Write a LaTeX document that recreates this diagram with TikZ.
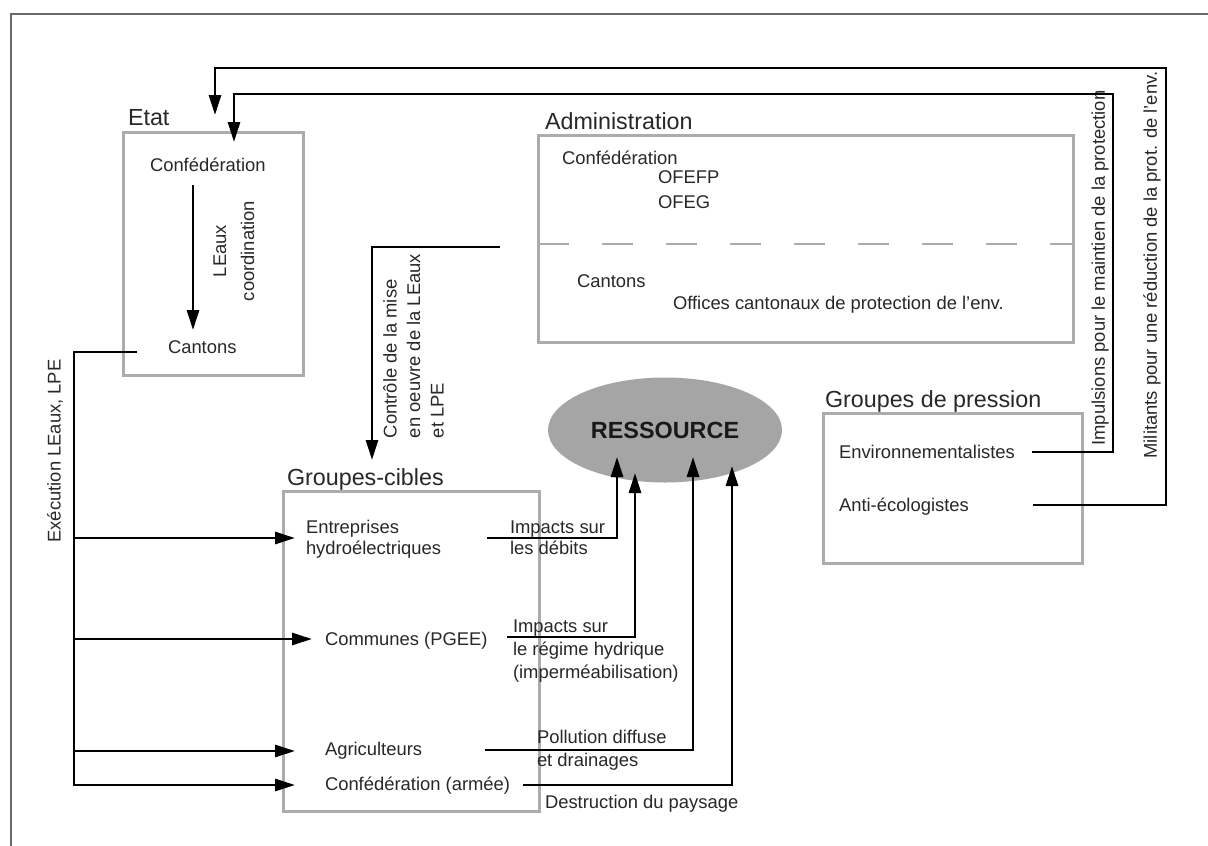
\documentclass[tikz,border=0pt]{standalone}
\usepackage{fontspec}
\setmainfont{Liberation Sans}
\usetikzlibrary{arrows.meta,shapes.geometric}
\definecolor{boxgray}{RGB}{172,172,172}
\definecolor{ellgray}{RGB}{165,165,165}
\definecolor{txtcol}{RGB}{40,40,40}
\definecolor{framecol}{RGB}{105,105,105}
\begin{document}
\begin{tikzpicture}[x=1pt,y=-1pt,
  txt/.style={font=\fontsize{18.4}{21}\selectfont, text=txtcol, inner sep=0pt, outer sep=0pt},
  hdr/.style={font=\fontsize{23.3}{28}\selectfont, text=txtcol, inner sep=0pt, outer sep=0pt},
  grpbox/.style={draw=boxgray, line width=3pt, inner sep=0pt, outer sep=0pt, anchor=north west},
  conn/.style={draw=black, line width=2.8pt},
  arr/.style={conn, -{Triangle[length=20pt,width=12pt]}},
]
\useasboundingbox (0,0) rectangle (1208,846);
\fill[white] (0,0) rectangle (1208,846);
% frame (left and top)
\draw[framecol, line width=2pt] (11,846) -- (11,14) -- (1208,14);

% group boxes
\node[grpbox, minimum width=180pt, minimum height=243pt] (etat) at (123,132) {};
\node[grpbox, minimum width=535pt, minimum height=207pt] (adm) at (538,135) {};
\node[grpbox, minimum width=256pt, minimum height=320pt] (gc) at (283,491) {};
\node[grpbox, minimum width=259pt, minimum height=150pt] (gp) at (823,413) {};
\draw[boxgray, line width=2.2pt, dash pattern=on 31pt off 33pt] (adm.west |- 0,244) -- (adm.east |- 0,244);

% headers
\node[hdr, anchor=base west] (etatlbl) at (128,125.3) {Etat};
\node[hdr, anchor=base west] (admlbl) at (545,129.3) {Administration};
\node[hdr, anchor=base west] (gclbl) at (287,485.3) {Groupes-cibles};
\node[hdr, anchor=base west] (gplbl) at (825,407.3) {Groupes de pression};

% ressource
\node[ellipse, fill=ellgray, draw=none, minimum width=234pt, minimum height=105pt, inner sep=0pt,
      font=\fontsize{23.4}{28}\bfseries, text=black!90] (res) at (665,430) {RESSOURCE};

% Etat contents
\node[txt, anchor=base west] (conf1) at (150,171.6) {Confédération};
\node[txt, anchor=base west] (cant1) at (168,353.6) {Cantons};
\node[txt, font=\fontsize{18.4}{28}\selectfont, align=center, rotate=90] (leaux) at (234,251) {LEaux\\coordination};

% Administration contents
\node[txt, anchor=base west] (conf2) at (562,164.6) {Confédération};
\node[txt, anchor=base west] (ofefp) at (658,183.6) {OFEFP};
\node[txt, anchor=base west] (ofeg) at (658,208.6) {OFEG};
\node[txt, anchor=base west] (cant2) at (577,287.6) {Cantons};
\node[txt, anchor=base west] (offices) at (673,309.6) {Offices cantonaux de protection de l'env.};

% Groupes-cibles contents
\node[txt, anchor=north west, align=left] (ent) at (306,520.4) {Entreprises\\hydroélectriques};
\node[txt, anchor=base west] (com) at (325,645.6) {Communes (PGEE)};
\node[txt, anchor=base west] (agr) at (325,755.6) {Agriculteurs};
\node[txt, anchor=base west] (confa) at (325,790.6) {Confédération (armée)};

% impact labels
\node[txt, anchor=north west, align=left] (imp1) at (510,520.4) {Impacts sur\\les débits};
\node[txt, font=\fontsize{18.4}{23}\selectfont, anchor=north west, align=left] (imp2) at (513,619.4) {Impacts sur\\le régime hydrique\\(imperméabilisation)};
\node[txt, font=\fontsize{18.4}{23}\selectfont, anchor=north west, align=left] (poll) at (537,730.4) {Pollution diffuse\\et drainages};
\node[txt, anchor=base west] (destr) at (545,808.6) {Destruction du paysage};

% Groupes de pression contents
\node[txt, anchor=base west] (env) at (839,458.6) {Environnementalistes};
\node[txt, anchor=base west] (anti) at (839,511.6) {Anti-écologistes};

% rotated connector labels
\node[txt, rotate=90] (exec) at (55,451) {Exécution LEaux, LPE};
\node[txt, font=\fontsize{18.4}{23.5}\selectfont, align=left, rotate=90, anchor=west] (ctrl) at (413.5,438) {Contrôle de la mise\\en oeuvre de la LEaux\\et LPE};
\node[txt, rotate=90] (imput) at (1100,268) {Impulsions pour le maintien de la protection};
\node[txt, rotate=90] (milit) at (1152,265) {Militants pour une réduction de la prot. de l'env.};

% connector end points
\coordinate (c1) at (193,185);
\coordinate (c2) at (193,330);
\coordinate (envo) at (1032,452);
\coordinate (antio) at (1033,505);
\coordinate (etatin1) at (234,142);
\coordinate (etatin2) at (215,115);
\coordinate (admo) at (500,247);
\coordinate (gcin) at (372,460);
\coordinate (canto) at (137,352);
\coordinate (trunk) at (74,352);
\coordinate (b1) at (74,538);
\coordinate (b2) at (74,639);
\coordinate (b3) at (74,751);
\coordinate (entin) at (295,538);
\coordinate (comin) at (312,639);
\coordinate (agrin) at (295,751);
\coordinate (confain) at (295,785);
\coordinate (ento) at (487,538);
\coordinate (como) at (507,637);
\coordinate (agro) at (485,750);
\coordinate (confao) at (523,785);
\coordinate (res1) at (617,457);
\coordinate (res2) at (635,473);
\coordinate (res3) at (693,457);
\coordinate (res4) at (732,466);

% connectors
\draw[arr] (c1) -- (c2);
\draw[arr] (envo) -| (1113,94) -| (etatin1);
\draw[arr] (antio) -| (1166,68) -| (etatin2);
\draw[arr] (admo) -| (gcin);
\draw[arr] (canto) -- (trunk) |- (confain);
\draw[arr] (b1) -- (entin);
\draw[arr] (b2) -- (comin);
\draw[arr] (b3) -- (agrin);
\draw[arr] (ento) -| (res1);
\draw[arr] (como) -| (res2);
\draw[arr] (agro) -| (res3);
\draw[arr] (confao) -| (res4);
\end{tikzpicture}
\end{document}
